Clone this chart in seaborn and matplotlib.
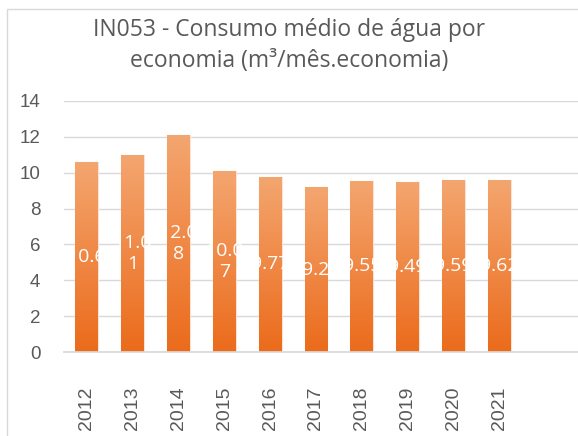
import numpy as np
import pandas as pd
import matplotlib
matplotlib.use("Agg")
import matplotlib.pyplot as plt
import seaborn as sns
from matplotlib.patches import Rectangle

years = ["2012", "2013", "2014", "2015", "2016", "2017", "2018", "2019", "2020", "2021"]
values = [10.6, 11.01, 12.08, 10.07, 9.77, 9.2, 9.55, 9.49, 9.59, 9.62]
bar_labels = ["10.6", "11.0\n1", "12.0\n8", "10.0\n7", "9.77", "9.2", "9.55", "9.49", "9.59", "9.62"]

df = pd.DataFrame({"Ano": years, "Valor": values})

sns.set_theme(style="white")
plt.rcParams["font.family"] = ["Liberation Sans", "DejaVu Sans"]

fig = plt.figure(figsize=(5.78, 4.36), dpi=100)
ax = fig.add_axes([64 / 578, 84 / 436, 1 - 64 / 578, 251 / 436])

sns.barplot(data=df, x="Ano", y="Valor", ax=ax, color="#ED7D31", width=0.5,
            saturation=1, edgecolor="#FBE3D3", linewidth=0.8)

# vertical gradient inside each bar (darker at the base)
grad = np.linspace(0, 1, 256).reshape(-1, 1)
cmap = matplotlib.colors.LinearSegmentedColormap.from_list("og", ["#EB6B1B", "#F4A670"])
for p in ax.patches:
    x0, y0 = p.get_x(), p.get_y()
    w, h = p.get_width(), p.get_height()
    im = ax.imshow(grad, extent=[x0, x0 + w, y0, y0 + h], origin="lower",
                   cmap=cmap, aspect="auto", zorder=p.get_zorder() + 0.1)
    im.set_clip_path(p)

for p, lab in zip(ax.patches, bar_labels):
    cx = p.get_x() + p.get_width() / 2
    ax.text(cx, p.get_height() / 2, lab, ha="center", va="center", color="white",
            fontsize=14, zorder=5, linespacing=1.2, family=["Open Sans", "DejaVu Sans"])

ax.set_xlim(-0.5, 10.72)
ax.set_ylim(0, 14)
ax.set_yticks(range(0, 15, 2))
ax.yaxis.grid(True, color="#D9D9D9", linewidth=1)
ax.set_axisbelow(True)
for s in ["top", "right", "left"]:
    ax.spines[s].set_visible(False)
ax.spines["bottom"].set_color("#D9D9D9")
ax.set_xlabel("")
ax.set_ylabel("")
ax.tick_params(axis="y", colors="#595959", labelsize=13.5, length=0, pad=17)
ax.tick_params(axis="x", colors="#595959", labelsize=14, length=0, pad=25, rotation=90)

fig.text(0.5, 0.958, "IN053 - Consumo médio de água por\neconomia (m³/mês.economia)",
         ha="center", va="top", fontsize=16.5, color="#595959", linespacing=1.35,
         family=["Open Sans", "DejaVu Sans"])

fig.patches.append(Rectangle((7 / 578, -0.05), 1.2, (436 - 9) / 436 + 0.05,
                             transform=fig.transFigure, fill=False,
                             edgecolor="#D9D9D9", linewidth=1, zorder=0))

plt.savefig("out.png", dpi=100)
